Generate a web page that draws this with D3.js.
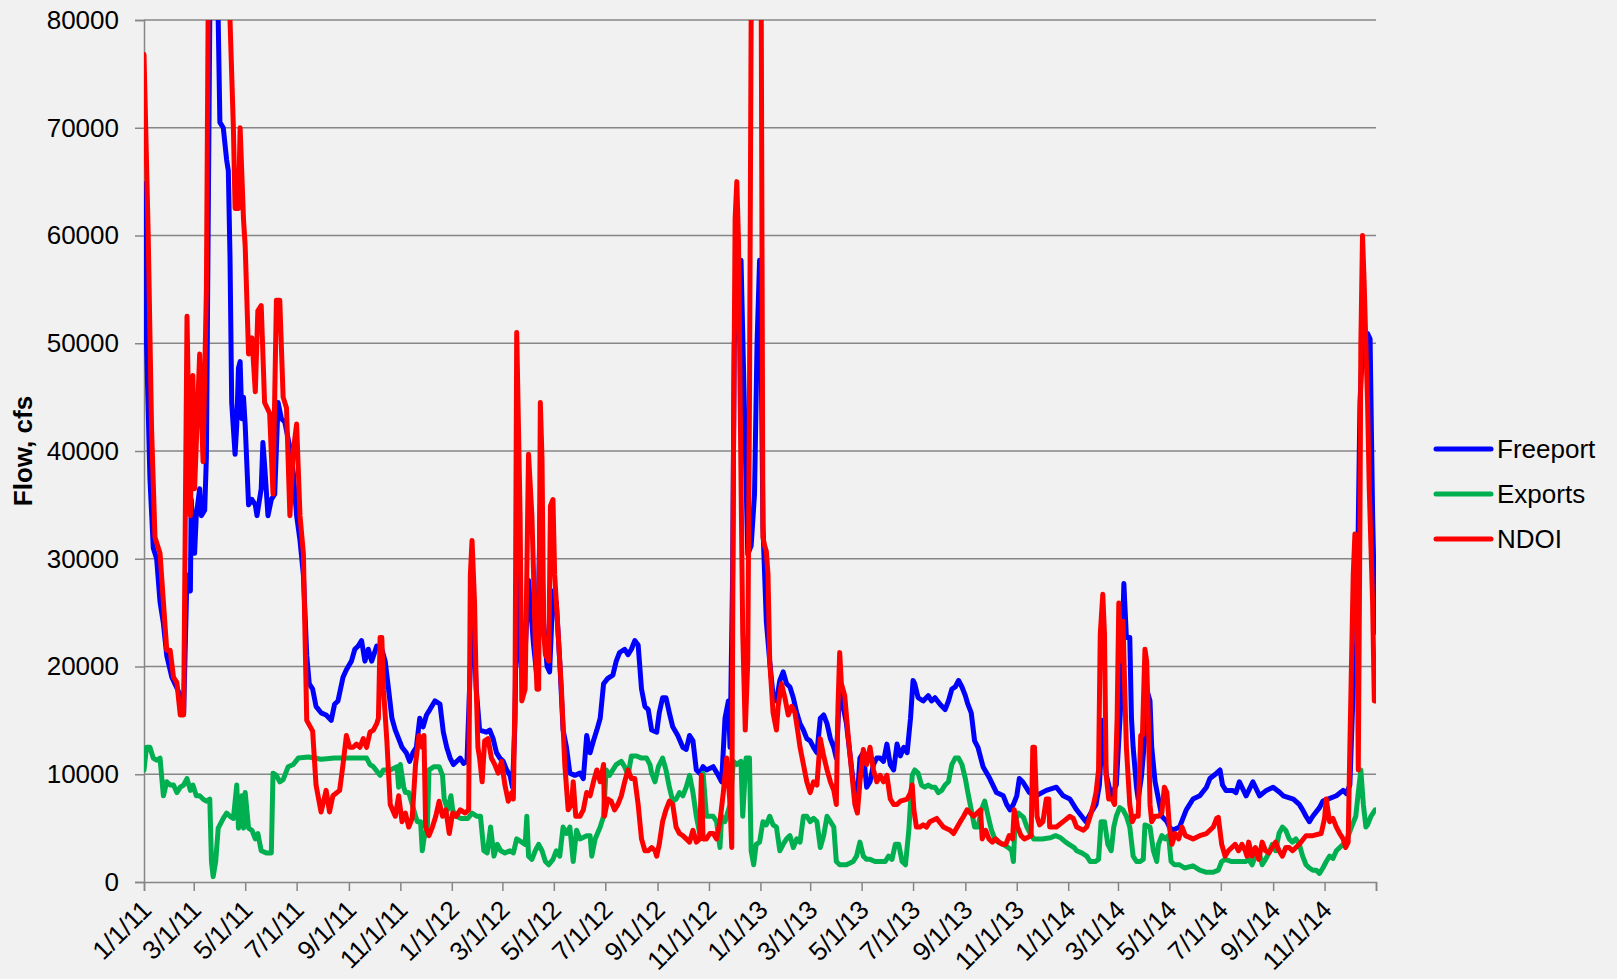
<!DOCTYPE html>
<html>
<head>
<meta charset="utf-8">
<script src="https://cdn.jsdelivr.net/npm/d3@7"></script>
<style>
  html, body { margin: 0; padding: 0; background: #f1f1f1; }
  svg { display: block; font-family: "Liberation Sans", Arial, sans-serif; }
</style>
</head>
<body>
<div id="chart"></div>
<script>
// daily flows, [date, cfs]
const freeport = [
  ["1/1/11",64800],["1/4/11",50000],["1/8/11",37500],["1/12/11",31000],["1/16/11",30000],["1/20/11",26000],["1/24/11",24000],["1/28/11",21000],["2/3/11",19000],["2/9/11",18000],["2/13/11",17300],["2/17/11",15700],["2/21/11",28500],["2/25/11",27000],["2/26/11",35500],["2/28/11",33000],["3/2/11",30500],["3/4/11",34000],["3/8/11",36500],["3/10/11",34000],["3/14/11",34500],["3/16/11",39500],["3/20/11",80000],["3/25/11",92000],["3/30/11",80000],["4/1/11",70500],["4/5/11",70000],["4/9/11",67000],["4/11/11",66000],["4/13/11",58000],["4/15/11",44500],["4/19/11",39700],["4/21/11",42400],["4/23/11",47700],["4/25/11",48300],["4/27/11",43000],["4/29/11",45000],["5/1/11",42400],["5/5/11",35000],["5/9/11",35500],["5/13/11",35000],["5/15/11",34000],["5/20/11",36500],["5/22/11",40800],["5/24/11",38700],["5/28/11",34000],["6/1/11",35500],["6/5/11",36000],["6/9/11",44500],["6/13/11",43000],["6/17/11",42700],["6/23/11",40300],["6/27/11",38000],["7/1/11",34000],["7/5/11",31700],["7/9/11",28500],["7/13/11",21000],["7/16/11",18400],["7/20/11",17900],["7/24/11",16300],["7/30/11",15700],["8/5/11",15500],["8/11/11",15000],["8/15/11",16500],["8/19/11",16800],["8/25/11",19000],["8/29/11",19700],["9/4/11",20500],["9/8/11",21600],["9/12/11",21900],["9/16/11",22400],["9/20/11",20500],["9/24/11",21600],["9/28/11",20500],["10/4/11",21900],["10/10/11",21600],["10/14/11",20500],["10/18/11",17900],["10/22/11",15200],["10/26/11",14100],["10/30/11",13300],["11/3/11",12500],["11/8/11",12000],["11/12/11",11200],["11/16/11",12000],["11/20/11",12500],["11/24/11",15200],["11/28/11",14400],["12/2/11",15500],["12/6/11",16000],["12/12/11",16800],["12/18/11",16500],["12/22/11",13900],["12/26/11",12500],["12/30/11",11500],
  ["1/3/12",10900],["1/7/12",11200],["1/11/12",11500],["1/15/12",11000],["1/19/12",11200],["1/23/12",20000],["1/25/12",26000],["1/27/12",24000],["1/30/12",17900],["2/3/12",14100],["2/11/12",13900],["2/15/12",14100],["2/19/12",13300],["2/23/12",12000],["2/27/12",11500],["3/2/12",11200],["3/6/12",10400],["3/10/12",9900],["3/13/12",8800],["3/16/12",15000],["3/18/12",30000],["3/22/12",21000],["3/26/12",18000],["4/1/12",28000],["4/7/12",22000],["4/11/12",19000],["4/15/12",35000],["4/19/12",24000],["4/23/12",20000],["4/26/12",19500],["4/30/12",27000],["5/4/12",25900],["5/8/12",20500],["5/12/12",14100],["5/16/12",12500],["5/20/12",10100],["5/26/12",9900],["6/1/12",10100],["6/5/12",9600],["6/9/12",13600],["6/13/12",12000],["6/17/12",13100],["6/21/12",14100],["6/25/12",15200],["6/29/12",18400],["7/4/12",18900],["7/10/12",19200],["7/14/12",20500],["7/18/12",21300],["7/24/12",21600],["7/28/12",21100],["8/1/12",21600],["8/5/12",22400],["8/9/12",22000],["8/13/12",17900],["8/17/12",16300],["8/21/12",16000],["8/25/12",14100],["8/31/12",13900],["9/3/12",15700],["9/7/12",17100],["9/11/12",17100],["9/15/12",15700],["9/19/12",14400],["9/25/12",13600],["10/1/12",12500],["10/5/12",12300],["10/9/12",13600],["10/13/12",13100],["10/17/12",10400],["10/21/12",10100],["10/25/12",10700],["10/29/12",10400],["11/6/12",10700],["11/12/12",9900],["11/16/12",9300],["11/20/12",15200],["11/24/12",16800],["11/26/12",12500],["11/29/12",28500],["12/1/12",50000],["12/5/12",55000],["12/9/12",57700],["12/13/12",44000],["12/17/12",30400],["12/21/12",31200],["12/25/12",36000],["12/28/12",50000],["12/31/12",57700],["1/2/13",48000],
  ["1/4/13",33000],["1/6/13",28500],["1/8/13",24200],["1/12/13",20500],["1/16/13",17300],["1/20/13",16800],["1/24/13",18700],["1/28/13",19500],["2/1/13",18400],["2/5/13",18100],["2/9/13",17100],["2/13/13",15700],["2/17/13",14700],["2/21/13",14100],["2/25/13",13300],["3/1/13",13100],["3/5/13",12500],["3/9/13",12000],["3/13/13",15200],["3/17/13",15500],["3/21/13",14700],["3/25/13",13300],["3/29/13",12500],["4/1/13",11500],["4/5/13",17900],["4/9/13",16300],["4/13/13",14700],["4/17/13",12000],["4/21/13",9300],["4/25/13",6700],["4/29/13",11500],["5/3/13",12000],["5/7/13",8800],["5/11/13",9300],["5/15/13",10900],["5/19/13",11500],["5/23/13",11500],["5/27/13",11200],["5/31/13",12800],["6/4/13",10900],["6/8/13",10400],["6/12/13",12800],["6/16/13",11700],["6/20/13",12500],["6/24/13",12000],["6/28/13",15200],["7/1/13",18700],["7/3/13",18400],["7/7/13",17100],["7/13/13",16800],["7/19/13",17300],["7/23/13",16800],["7/27/13",17100],["8/2/13",16500],["8/8/13",16000],["8/12/13",16800],["8/16/13",17900],["8/20/13",18100],["8/24/13",18700],["8/28/13",18100],["9/1/13",17300],["9/4/13",16500],["9/8/13",15700],["9/12/13",13100],["9/16/13",12500],["9/22/13",10700],["9/30/13",9600],["10/8/13",8300],["10/16/13",8000],["10/20/13",7200],["10/24/13",6700],["10/28/13",7200],["11/1/13",8000],["11/4/13",9600],["11/8/13",9300],["11/12/13",8800],["11/16/13",8300],["11/24/13",8000],["12/6/13",8500],["12/18/13",8800],["12/26/13",8000],
  ["1/3/14",7700],["1/11/14",6700],["1/19/14",5900],["1/22/14",5600],["1/30/14",6700],["2/3/14",7200],["2/7/14",9000],["2/11/14",15000],["2/15/14",10000],["2/21/14",8000],["2/27/14",9000],["3/4/14",16000],["3/8/14",27700],["3/11/14",22700],["3/15/14",22700],["3/17/14",15200],["3/19/14",12500],["3/23/14",8800],["3/25/14",7700],["3/29/14",9900],["4/2/14",13600],["4/4/14",17900],["4/8/14",16800],["4/10/14",12500],["4/14/14",9300],["4/18/14",7700],["4/22/14",6100],["4/28/14",5600],["5/1/14",5100],["5/5/14",4800],["5/13/14",5100],["5/21/14",6700],["5/29/14",7700],["6/6/14",8000],["6/14/14",8800],["6/18/14",9600],["6/26/14",10100],["6/30/14",10400],["7/3/14",9000],["7/7/14",8500],["7/15/14",8500],["7/19/14",8300],["7/23/14",9300],["7/31/14",8000],["8/8/14",9300],["8/16/14",8000],["8/24/14",8500],["9/1/14",8800],["9/9/14",8300],["9/13/14",8000],["9/25/14",7700],["10/2/14",7200],["10/6/14",6700],["10/10/14",6100],["10/14/14",5600],["10/18/14",6100],["10/26/14",6900],["10/30/14",7500],["11/15/14",8000],["11/23/14",8500],["11/27/14",8200],["12/1/14",9000],["12/5/14",18000],["12/9/14",22000],["12/13/14",44500],["12/16/14",49800],["12/18/14",50900],["12/22/14",50900],["12/25/14",50400],["12/28/14",34000],["12/31/14",23200]
];

const exportsFlow = [
  ["1/1/11",10400],["1/4/11",12500],["1/8/11",12500],["1/12/11",11500],["1/16/11",11300],["1/20/11",11500],["1/24/11",8000],["1/28/11",9300],["2/1/11",9000],["2/5/11",9000],["2/9/11",8300],["2/13/11",8800],["2/17/11",9000],["2/21/11",9600],["2/25/11",8500],["2/28/11",9000],["3/4/11",8000],["3/8/11",8000],["3/12/11",7700],["3/16/11",7500],["3/20/11",7700],["3/22/11",1900],["3/24/11",500],["3/27/11",1900],["3/30/11",5000],["4/5/11",5900],["4/9/11",6400],["4/13/11",6100],["4/17/11",5900],["4/21/11",9000],["4/23/11",5000],["4/27/11",8000],["4/29/11",5000],["5/1/11",8300],["5/5/11",5000],["5/9/11",4800],["5/13/11",4000],["5/16/11",4500],["5/20/11",2900],["5/26/11",2700],["6/1/11",2700],["6/3/11",10100],["6/7/11",9900],["6/11/11",9300],["6/15/11",9500],["6/21/11",10700],["6/27/11",10900],["7/3/11",11500],["7/15/11",11600],["7/30/11",11400],["8/15/11",11500],["8/30/11",11500],["9/15/11",11500],["9/22/11",11500],["9/26/11",10900],["9/30/11",10700],["10/6/11",10100],["10/8/11",9900],["10/12/11",10400],["10/20/11",10400],["10/28/11",10700],["10/30/11",8800],["11/1/11",10900],["11/5/11",8800],["11/7/11",8300],["11/11/11",8300],["11/15/11",7200],["11/21/11",5600],["11/25/11",5600],["11/27/11",2900],["11/29/11",4000],["12/3/11",5100],["12/5/11",10400],["12/11/11",10700],["12/17/11",10700],["12/21/11",9900],["12/23/11",7700],["12/27/11",6700],["12/31/11",8000],
  ["1/2/12",6700],["1/6/12",6100],["1/12/12",5900],["1/20/12",5900],["1/25/12",6400],["1/31/12",6100],["2/4/12",6100],["2/8/12",2900],["2/12/12",2700],["2/16/12",5100],["2/20/12",2400],["2/24/12",3500],["2/28/12",2900],["3/4/12",2700],["3/10/12",2900],["3/14/12",2700],["3/18/12",4000],["3/24/12",3700],["3/28/12",3500],["3/30/12",6100],["4/1/12",2400],["4/5/12",2100],["4/9/12",2900],["4/13/12",3500],["4/17/12",2900],["4/21/12",1900],["4/25/12",1600],["4/30/12",2100],["5/4/12",2900],["5/8/12",2400],["5/12/12",5100],["5/16/12",4500],["5/20/12",5100],["5/24/12",1900],["5/28/12",4800],["6/1/12",4000],["6/9/12",4300],["6/13/12",4300],["6/15/12",2400],["6/19/12",4000],["6/25/12",5100],["6/29/12",6100],["7/2/12",10400],["7/6/12",9900],["7/10/12",10400],["7/14/12",10900],["7/20/12",11200],["7/24/12",10700],["7/28/12",9900],["8/1/12",11700],["8/7/12",11700],["8/13/12",11500],["8/19/12",11500],["8/23/12",10900],["8/25/12",10100],["8/29/12",9300],["9/2/12",10700],["9/7/12",11500],["9/11/12",10400],["9/15/12",8800],["9/19/12",7500],["9/23/12",7700],["9/27/12",8300],["10/1/12",8000],["10/5/12",8800],["10/9/12",9900],["10/13/12",8300],["10/17/12",6100],["10/21/12",4500],["10/25/12",10100],["10/29/12",6100],["11/6/12",6100],["11/10/12",5600],["11/14/12",3200],["11/16/12",6100],["11/20/12",5600],["11/26/12",7200],["11/30/12",11200],["12/4/12",10900],["12/9/12",11200],["12/11/12",6100],["12/15/12",11500],["12/19/12",11500],["12/21/12",2900],["12/24/12",1600],["12/27/12",3500],["12/31/12",3700],
  ["1/4/13",5600],["1/8/13",5300],["1/12/13",6100],["1/16/13",5300],["1/20/13",5100],["1/24/13",2900],["1/28/13",3500],["2/1/13",4000],["2/5/13",4300],["2/9/13",3200],["2/13/13",4000],["2/17/13",3700],["2/21/13",6100],["2/25/13",6100],["3/1/13",5600],["3/5/13",5900],["3/9/13",5600],["3/13/13",3200],["3/17/13",4300],["3/21/13",6100],["3/25/13",5600],["3/29/13",5100],["4/1/13",1900],["4/5/13",1600],["4/13/13",1600],["4/21/13",1900],["4/25/13",2400],["4/29/13",3700],["5/3/13",2400],["5/7/13",2100],["5/11/13",2100],["5/17/13",1900],["5/23/13",1900],["5/29/13",1900],["6/2/13",2400],["6/6/13",2100],["6/10/13",3500],["6/14/13",3500],["6/18/13",1900],["6/22/13",1600],["6/26/13",4800],["6/30/13",9900],["7/3/13",10400],["7/7/13",10100],["7/11/13",9000],["7/15/13",8800],["7/19/13",9000],["7/23/13",8800],["7/27/13",8800],["7/31/13",8300],["8/4/13",8500],["8/8/13",9000],["8/12/13",9300],["8/16/13",10900],["8/20/13",11500],["8/24/13",11500],["8/28/13",10900],["9/1/13",9600],["9/4/13",8300],["9/8/13",6700],["9/12/13",5100],["9/16/13",5100],["9/20/13",6700],["9/24/13",7500],["9/28/13",6100],["10/2/13",4800],["10/6/13",4000],["10/10/13",3700],["10/16/13",3500],["10/22/13",3200],["10/26/13",2900],["10/28/13",1900],["10/30/13",5600],["11/3/13",6400],["11/9/13",6000],["11/13/13",5100],["11/17/13",4500],["11/21/13",4000],["12/1/13",4000],["12/11/13",4100],["12/17/13",4300],["12/23/13",4100],["12/29/13",3700],
  ["1/2/14",3500],["1/8/14",3200],["1/11/14",2900],["1/17/14",2700],["1/23/14",2400],["1/27/14",1900],["2/2/14",1900],["2/6/14",2100],["2/9/14",5600],["2/13/14",5600],["2/17/14",3500],["2/21/14",2900],["2/24/14",5100],["2/27/14",6100],["3/3/14",6900],["3/7/14",6700],["3/11/14",6100],["3/15/14",5100],["3/19/14",2400],["3/23/14",1900],["3/27/14",1900],["3/31/14",2100],["4/2/14",5300],["4/8/14",5100],["4/12/14",2900],["4/16/14",1900],["4/18/14",3500],["4/22/14",4300],["4/26/14",4000],["4/30/14",4300],["5/3/14",1900],["5/7/14",1600],["5/13/14",1600],["5/19/14",1300],["5/29/14",1500],["6/6/14",1100],["6/14/14",900],["6/22/14",900],["6/28/14",1100],["7/2/14",1900],["7/6/14",2100],["7/14/14",1900],["7/22/14",1900],["7/30/14",1900],["8/3/14",2100],["8/7/14",1600],["8/11/14",2400],["8/15/14",2900],["8/19/14",1600],["8/23/14",2100],["8/27/14",2700],["8/31/14",3500],["9/4/14",2900],["9/8/14",4500],["9/12/14",5100],["9/16/14",4800],["9/20/14",4000],["9/24/14",3700],["9/28/14",4000],["10/2/14",3500],["10/6/14",2400],["10/10/14",1600],["10/14/14",1300],["10/18/14",1100],["10/22/14",1100],["10/26/14",800],["10/30/14",1300],["11/3/14",1900],["11/7/14",2400],["11/11/14",2200],["11/15/14",2900],["11/19/14",3200],["11/23/14",3500],["11/26/14",3700],["11/30/14",4500],["12/4/14",5300],["12/8/14",6100],["12/11/14",8300],["12/14/14",10400],["12/17/14",7200],["12/20/14",5100],["12/22/14",5300],["12/26/14",6100],["12/31/14",6700]
];

const ndoi = [
  ["1/1/11",76800],["1/6/11",60000],["1/10/11",42000],["1/14/11",32000],["1/20/11",30500],["1/24/11",26000],["1/28/11",21500],["2/1/11",21500],["2/5/11",19000],["2/9/11",18500],["2/13/11",15500],["2/17/11",15500],["2/21/11",52500],["2/25/11",34000],["2/28/11",47000],["3/2/11",36500],["3/8/11",49000],["3/12/11",39000],["3/16/11",55000],["3/18/11",80000],["3/24/11",105000],["4/3/11",100000],["4/13/11",80000],["4/17/11",70000],["4/19/11",62500],["4/23/11",62500],["4/25/11",70000],["4/29/11",61500],["5/1/11",59000],["5/5/11",49000],["5/9/11",50500],["5/13/11",45500],["5/16/11",53000],["5/20/11",53500],["5/24/11",44500],["5/30/11",43500],["6/3/11",36000],["6/7/11",54000],["6/11/11",54000],["6/15/11",45000],["6/19/11",44000],["6/23/11",34000],["6/27/11",40000],["7/1/11",42500],["7/5/11",34000],["7/9/11",30500],["7/13/11",15000],["7/20/11",14000],["7/24/11",9000],["7/30/11",6500],["8/5/11",8500],["8/9/11",6500],["8/13/11",8000],["8/21/11",8500],["8/25/11",10900],["8/29/11",13600],["9/2/11",12500],["9/6/11",12500],["9/10/11",12800],["9/14/11",12500],["9/18/11",13300],["9/22/11",12500],["9/26/11",13900],["9/30/11",14100],["10/4/11",14700],["10/6/11",15200],["10/8/11",22700],["10/10/11",22700],["10/12/11",17900],["10/16/11",13100],["10/20/11",7200],["10/26/11",6100],["10/30/11",8000],["11/3/11",5600],["11/7/11",6400],["11/11/11",5100],["11/15/11",5900],["11/19/11",10900],["11/23/11",13600],["11/27/11",12500],["11/29/11",13600],["12/1/11",5100],["12/5/11",4300],["12/9/11",5100],["12/13/11",6100],["12/17/11",7500],["12/21/11",6100],["12/25/11",6700],["12/29/11",4500],
  ["1/2/12",6400],["1/6/12",6100],["1/11/12",6700],["1/17/12",6400],["1/21/12",6700],["1/23/12",28500],["1/25/12",31700],["1/28/12",25900],["1/30/12",17900],["2/1/12",12500],["2/3/12",11500],["2/6/12",9300],["2/9/12",13100],["2/13/12",13300],["2/17/12",11500],["2/21/12",10900],["2/25/12",10100],["2/29/12",11200],["3/4/12",9000],["3/8/12",7500],["3/12/12",8300],["3/14/12",7700],["3/16/12",17900],["3/18/12",51000],["3/22/12",34000],["3/24/12",16800],["3/28/12",17900],["4/1/12",39700],["4/5/12",34000],["4/7/12",28500],["4/9/12",22100],["4/11/12",17900],["4/13/12",17900],["4/15/12",44500],["4/17/12",39200],["4/19/12",23200],["4/21/12",21100],["4/25/12",20500],["4/27/12",34900],["4/30/12",35500],["5/2/12",28500],["5/6/12",23200],["5/10/12",17900],["5/14/12",10900],["5/18/12",6700],["5/22/12",7200],["5/24/12",9300],["5/27/12",6100],["6/1/12",6100],["6/5/12",6700],["6/9/12",8300],["6/13/12",8000],["6/17/12",9300],["6/21/12",10400],["6/25/12",9300],["6/29/12",10900],["6/30/12",6100],["7/4/12",7700],["7/8/12",7500],["7/12/12",6700],["7/16/12",7200],["7/20/12",8000],["7/24/12",9300],["7/28/12",10400],["8/1/12",9600],["8/5/12",9600],["8/9/12",7200],["8/13/12",4000],["8/17/12",2900],["8/21/12",2900],["8/25/12",3200],["8/29/12",2900],["8/31/12",2400],["9/3/12",3500],["9/7/12",5600],["9/11/12",6700],["9/15/12",7500],["9/19/12",7200],["9/23/12",5100],["9/27/12",4500],["10/1/12",4300],["10/5/12",4000],["10/9/12",3700],["10/13/12",4800],["10/17/12",3700],["10/21/12",4000],["10/23/12",9900],["10/25/12",4000],["10/29/12",4000],["11/2/12",4500],["11/6/12",4500],["11/10/12",4000],["11/14/12",5600],["11/18/12",8300],["11/22/12",11500],["11/26/12",7200],["11/28/12",3200],["11/30/12",39200],["12/2/12",61600],["12/4/12",65000],["12/6/12",59500],["12/8/12",44500],["12/11/12",23200],["12/14/12",14100],["12/17/12",20500],["12/19/12",44500],["12/21/12",80000],["12/26/12",110000],["12/30/12",100000],["1/2/13",80000],
  ["1/4/13",32000],["1/6/13",31200],["1/8/13",30700],["1/10/13",28500],["1/12/13",20500],["1/16/13",15700],["1/20/13",14100],["1/22/13",16300],["1/26/13",18400],["1/30/13",17100],["2/3/13",15500],["2/7/13",16300],["2/11/13",15700],["2/15/13",13600],["2/17/13",12500],["2/21/13",10900],["2/25/13",9300],["3/1/13",8300],["3/5/13",9300],["3/9/13",9000],["3/13/13",13300],["3/17/13",11700],["3/21/13",10400],["3/25/13",9300],["3/29/13",8500],["4/1/13",7200],["4/3/13",16300],["4/5/13",21300],["4/7/13",18400],["4/11/13",17300],["4/15/13",13600],["4/19/13",10400],["4/23/13",7200],["4/26/13",6400],["4/29/13",9300],["5/3/13",12300],["5/7/13",10900],["5/11/13",12500],["5/15/13",10400],["5/19/13",9300],["5/23/13",9900],["5/27/13",9300],["5/31/13",9900],["6/4/13",7700],["6/8/13",7200],["6/12/13",7200],["6/16/13",7500],["6/24/13",7700],["6/28/13",8300],["6/30/13",9000],["7/2/13",6700],["7/5/13",5100],["7/9/13",5100],["7/13/13",5300],["7/17/13",5100],["7/21/13",5600],["7/29/13",5900],["8/6/13",5100],["8/14/13",4800],["8/18/13",4500],["8/26/13",5600],["8/30/13",6100],["9/3/13",6700],["9/11/13",6100],["9/15/13",6400],["9/19/13",6700],["9/21/13",4000],["9/25/13",4800],["9/29/13",4000],["10/3/13",3700],["10/7/13",4000],["10/11/13",3700],["10/15/13",3500],["10/19/13",3500],["10/23/13",4300],["10/27/13",4000],["10/29/13",6700],["11/2/13",5100],["11/6/13",4300],["11/10/13",4000],["11/18/13",4300],["11/20/13",12500],["11/22/13",12500],["11/25/13",6100],["11/28/13",5300],["12/2/13",5600],["12/6/13",7700],["12/9/13",7700],["12/10/13",5100],["12/18/13",5100],["12/26/13",5600],
  ["1/3/14",6100],["1/7/14",5900],["1/11/14",5100],["1/19/14",4800],["1/23/14",5100],["1/27/14",6100],["1/31/14",7200],["2/3/14",8300],["2/6/14",10400],["2/8/14",23000],["2/11/14",26700],["2/13/14",23000],["2/15/14",9900],["2/18/14",7700],["2/22/14",7700],["2/25/14",7200],["2/28/14",15200],["3/2/14",25900],["3/5/14",20500],["3/7/14",24200],["3/9/14",17900],["3/11/14",12500],["3/15/14",7200],["3/18/14",5600],["3/21/14",6100],["3/25/14",6100],["3/28/14",13600],["3/30/14",13600],["4/2/14",21600],["4/4/14",20500],["4/6/14",15200],["4/8/14",7200],["4/10/14",5600],["4/14/14",6100],["4/18/14",6100],["4/22/14",6400],["4/25/14",8800],["4/28/14",8300],["5/1/14",5100],["5/4/14",3500],["5/8/14",4500],["5/12/14",4000],["5/16/14",5100],["5/20/14",4300],["5/29/14",4000],["6/6/14",4300],["6/14/14",4500],["6/22/14",5100],["6/26/14",5900],["6/28/14",6000],["7/2/14",3500],["7/6/14",2400],["7/10/14",2900],["7/14/14",3200],["7/18/14",3500],["7/22/14",2900],["7/26/14",3500],["7/30/14",2900],["8/1/14",2400],["8/3/14",3700],["8/7/14",2400],["8/11/14",3200],["8/15/14",2100],["8/19/14",3700],["8/23/14",2900],["8/27/14",2700],["8/31/14",3200],["9/4/14",3700],["9/8/14",2900],["9/12/14",2400],["9/16/14",3200],["9/20/14",3200],["9/24/14",2900],["9/28/14",3200],["10/2/14",3500],["10/10/14",4300],["10/18/14",4300],["10/28/14",4500],["11/1/14",5900],["11/3/14",7700],["11/7/14",5600],["11/11/14",5900],["11/15/14",5100],["11/19/14",4500],["11/23/14",4000],["11/26/14",3200],["11/29/14",3700],["12/1/14",12500],["12/5/14",28500],["12/7/14",32300],["12/9/14",32000],["12/11/14",10400],["12/13/14",34000],["12/14/14",49800],["12/16/14",60000],["12/18/14",55500],["12/20/14",49800],["12/22/14",44500],["12/24/14",36500],["12/26/14",31200],["12/28/14",25900],["12/30/14",16800],["12/31/14",16800]
];

const seriesNames = ["Freeport", "Exports", "NDOI"];
const seriesColors = ["#0000ff", "#00b050", "#ff0000"];
const yTicks = [0, 10000, 20000, 30000, 40000, 50000, 60000, 70000, 80000];
const xTickLabels = ["1/1/11","3/1/11","5/1/11","7/1/11","9/1/11","11/1/11","1/1/12","3/1/12","5/1/12","7/1/12","9/1/12","11/1/12",
  "1/1/13","3/1/13","5/1/13","7/1/13","9/1/13","11/1/13","1/1/14","3/1/14","5/1/14","7/1/14","9/1/14","11/1/14"];
const xStart = "1/1/11", xEnd = "1/1/15";

const W = 1617, H = 979;
const margin = {top: 20, right: 241, bottom: 97, left: 144};
const width = W - margin.left - margin.right;
const height = H - margin.top - margin.bottom;
const axisColor = "#868686";
const fontSize = 26;

const parse = d3.timeParse("%m/%d/%y");

const svg = d3.select("#chart").append("svg")
    .attr("width", W)
    .attr("height", H)
    .style("background", "#f1f1f1");

const g = svg.append("g")
    .attr("transform", "translate(" + margin.left + "," + margin.top + ")");

const x = d3.scaleTime().domain([parse(xStart), parse(xEnd)]).range([0, width]);
const y = d3.scaleLinear().domain([0, 80000]).range([height, 0]);

// horizontal grid
g.append("g")
  .selectAll("line")
  .data(yTicks.filter(d => d > 0))
  .join("line")
    .attr("x1", 0).attr("x2", width)
    .attr("y1", d => y(d)).attr("y2", d => y(d))
    .attr("stroke", axisColor)
    .attr("stroke-width", 1.5);

// y axis
const yAxis = g.append("g")
    .call(d3.axisLeft(y).tickValues(yTicks).tickSize(9).tickPadding(16).tickFormat(d3.format("d")));
yAxis.select(".domain").attr("stroke", axisColor).attr("stroke-width", 1.5);
yAxis.selectAll(".tick line").attr("stroke", axisColor).attr("stroke-width", 1.5);
yAxis.selectAll("text")
    .attr("fill", "#000")
    .style("font-size", fontSize + "px")
    .style("font-family", "'Liberation Sans', Arial, sans-serif");

// x axis, ticks every two months, last tick (1/1/15) unlabeled
const xTickDates = xTickLabels.map(parse).concat([parse(xEnd)]);
const fmt = d3.timeFormat("%-m/%-d/%y");
const xAxis = g.append("g")
    .attr("transform", "translate(0," + height + ")")
    .call(d3.axisBottom(x).tickValues(xTickDates).tickSize(9)
      .tickFormat(d => xTickLabels.includes(fmt(d)) ? fmt(d) : ""));
xAxis.select(".domain").attr("stroke", axisColor).attr("stroke-width", 1.5);
xAxis.selectAll(".tick line").attr("stroke", axisColor).attr("stroke-width", 1.5);
xAxis.selectAll("text")
    .attr("fill", "#000")
    .style("font-size", fontSize + "px")
    .style("font-family", "'Liberation Sans', Arial, sans-serif")
    .attr("text-anchor", "end")
    .attr("x", 0)
    .attr("y", 0)
    .attr("dy", "0.35em")
    .attr("transform", "translate(2,23) rotate(-45)");

// y axis title
svg.append("text")
    .attr("transform", "translate(32," + (margin.top + height / 2) + ") rotate(-90)")
    .attr("text-anchor", "middle")
    .style("font-size", fontSize + "px")
    .style("font-weight", "bold")
    .text("Flow, cfs");

// series lines
g.append("clipPath").attr("id", "plot-clip")
  .append("rect").attr("x", 0).attr("y", 0).attr("width", width).attr("height", height);

const line = d3.line()
    .x(d => x(parse(d[0])))
    .y(d => y(d[1]));

const allSeries = [freeport, exportsFlow, ndoi];
g.append("g").attr("clip-path", "url(#plot-clip)")
  .selectAll("path")
  .data(allSeries)
  .join("path")
    .attr("d", line)
    .attr("fill", "none")
    .attr("stroke", (d, i) => seriesColors[i])
    .attr("stroke-width", 5)
    .attr("stroke-linejoin", "round")
    .attr("stroke-linecap", "round");

// legend
const legend = svg.append("g")
    .attr("transform", "translate(1436,449)");
const rows = legend.selectAll("g")
    .data(seriesNames)
    .join("g")
    .attr("transform", (d, i) => "translate(0," + (i * 45) + ")");
rows.append("line")
    .attr("x1", 0).attr("x2", 55)
    .attr("stroke", (d, i) => seriesColors[i])
    .attr("stroke-width", 5)
    .attr("stroke-linecap", "round");
rows.append("text")
    .attr("x", 61)
    .attr("dy", "0.35em")
    .style("font-size", fontSize + "px")
    .text(d => d);
</script>
</body>
</html>
